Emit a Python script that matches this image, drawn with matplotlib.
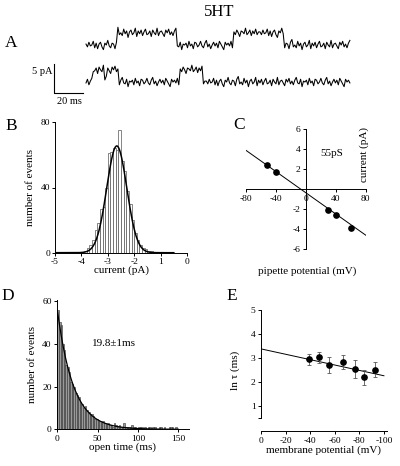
import matplotlib
matplotlib.use("Agg")
import matplotlib.pyplot as plt
import numpy as np

plt.rcParams['font.family'] = ['Liberation Serif', 'DejaVu Serif']
plt.rcParams['font.size'] = 6.8
plt.rcParams['axes.unicode_minus'] = False
plt.rcParams['axes.linewidth'] = 0.7
plt.rcParams['xtick.major.width'] = 0.7
plt.rcParams['ytick.major.width'] = 0.7
plt.rcParams['xtick.major.size'] = 2.5
plt.rcParams['ytick.major.size'] = 2.5

W, H = 400, 466
LAB = 8  # axis label size
LET = 12.5  # panel letters

# --- panel A: single channel traces (ms, pA) ---
trace_len = 182
open_amp = 2.1
top_openings = [(22, 63), (102, 137)]
bottom_openings = [(4.6, 12.4), (14.7, 23), (64.3, 81)]
bottom_partial = [(12.4, 14.7, 0.4)]
noise_gain = 1.6
trace_noise = [0.1, -0.2, 0.3, -0.1, 0.0, 0.4, -0.3, 0.2, -0.4, 0.1, 0.3, -0.2, -0.5, 0.2, 0.0,
               0.5, -0.1, -0.3, 0.2, 0.1, -0.4, 0.3, 0.6, -0.2, 0.0, -0.3, 0.4, -0.1, 0.2, -0.5,
               0.1, 0.3, -0.2, 0.0, 0.5, -0.4, 0.2, -0.1, 0.3, -0.3, 0.1, 0.4, -0.2, -0.1, 0.2,
               -0.4, 0.3, 0.0, -0.2, 0.5, -0.3, 0.1, 0.2, -0.1, -0.4, 0.3, 0.0, 0.4, -0.2, 0.1,
               -0.3, 0.2, 0.5, -0.1, -0.2, 0.3, -0.5, 0.1, 0.0, 0.2, -0.3, 0.4, -0.1, 0.1, -0.4,
               0.3, 0.2, -0.2, 0.0, 0.4, -0.1, -0.3, 0.2, 0.5, -0.2, 0.1, -0.4, 0.0, 0.3, -0.1,
               0.2, -0.3, 0.4, 0.1, -0.2, -0.5, 0.3, 0.0, 0.2, -0.1, 0.4, -0.3, 0.1, -0.2, 0.3,
               0.0, -0.4, 0.2, 0.1, -0.1, 0.5, -0.2, 0.0, 0.3, -0.3, 0.2, -0.1, 0.4, -0.2, 0.1]
trace_offset = -6.38

# --- panel B: amplitude histogram ---
amp_centers = [-3.85, -3.75, -3.65, -3.55, -3.45, -3.35, -3.25, -3.15, -3.05, -2.95, -2.85,
               -2.75, -2.65, -2.55, -2.45, -2.35, -2.25, -2.15, -2.05, -1.95, -1.85, -1.75,
               -1.65, -1.55, -1.45, -1.35]
amp_counts = [1, 3, 5, 8, 14, 18, 27, 28, 40, 61, 62, 64, 63, 75, 56, 50, 38, 30, 20, 12, 8,
              5, 3, 2, 1, 1]
gauss_amp, gauss_mu, gauss_sigma = 65.5, -2.66, 0.38

# --- panel C: I-V ---
iv_voltage = [-52, -40, 30, 40, 60]
iv_current = [2.45, 1.67, -2.1, -2.6, -3.85]
iv_slope, iv_icpt = -0.053, -0.35

# --- panel D: open time histogram (2 ms bins) ---
ot_counts = [56, 50, 49, 40, 37, 30, 29, 27, 22, 21, 20, 17, 16, 15, 13, 12, 10, 11, 9, 8,
             7, 7, 6, 5, 5, 4, 4, 3, 4, 3, 2, 3, 2, 2, 1, 3, 2, 1, 2, 1, 1, 3, 1, 1, 1, 1, 2,
             1, 1, 0, 1, 1, 1, 0, 1, 0, 1, 1, 0, 1, 1, 0, 0, 1, 1, 0, 1, 0, 0, 1, 1, 1, 0, 1, 0]
ot_binw = 2
exp_amp, exp_tau = 56, 19.8

# --- panel E: ln tau vs membrane potential ---
e_voltage = [-39, -47, -55, -67, -76.5, -84, -93]
e_lntau = [2.94, 3.03, 2.70, 2.84, 2.54, 2.19, 2.52]
e_err = [0.24, 0.22, 0.33, 0.29, 0.36, 0.33, 0.31]
e_slope, e_icpt = 0.0112, 3.38


def box(x0, y0, x1, y1):
    # pixel box (top-left origin) -> figure fraction rect
    return [x0 / W, 1 - y1 / H, (x1 - x0) / W, (y1 - y0) / H]


def ftext(x, y, s, **kw):
    fig.text(x / W, 1 - y / H, s, **kw)


fig = plt.figure(figsize=(W / 100, H / 100), dpi=100)

# A
axA = fig.add_axes(box(0, 20, 400, 105))
axA.axis('off')
axA.set_xlim(-59.31, 216.55)
axA.set_ylim(-10.34, 4.31)
t = np.arange(0, trace_len + 1, 1.0)
nz = np.array(trace_noise) * noise_gain
top = np.zeros_like(t)
for a, b in top_openings:
    top[(t >= a) & (t < b)] = open_amp
bot = np.zeros_like(t)
for a, b in bottom_openings:
    bot[(t >= a) & (t < b)] = open_amp
for a, b, f in bottom_partial:
    bot[(t >= a) & (t < b)] = open_amp * f
idx = np.arange(len(t))
axA.plot(t, top + nz[idx % len(nz)], color='k', lw=0.75)
axA.plot(t, bot + nz[(idx + 37) % len(nz)] + trace_offset, color='k', lw=0.75)
axA.plot([-21.9, -21.9, -1.9], [-3.27, -8.27, -8.27], color='k', lw=0.8)
ftext(52, 72, '5 pA', ha='right', va='center', fontsize=7.5)
ftext(69, 101, '20 ms', ha='center', va='center', fontsize=7.5)
ftext(219, 12, '5HT', ha='center', va='center', fontsize=12)
ftext(11, 43, 'A', ha='center', va='center', fontsize=LET)

# B
axB = fig.add_axes(box(55, 122.3, 187, 252.7))
axB.bar(amp_centers, amp_counts, width=0.1, facecolor='white', edgecolor='#555', lw=0.5)
xg = np.linspace(-5, -0.5, 300)
axB.plot(xg, gauss_amp * np.exp(-(xg - gauss_mu) ** 2 / (2 * gauss_sigma ** 2)), color='k', lw=1.1)
axB.set_xlim(-5, 0)
axB.set_ylim(0, 80)
axB.set_xticks([-5, -4, -3, -2, -1, 0], labels=['-5', '-4', '-3', '-2', '1', '0'])
axB.set_yticks([0, 40, 80])
axB.spines[['top', 'right']].set_visible(False)
axB.tick_params(pad=1)
axB.set_xlabel('current (pA)', labelpad=0, fontsize=LAB)
axB.set_ylabel('number of events', labelpad=4, fontsize=LAB)
ftext(11, 126, 'B', ha='center', va='center', fontsize=LET)

# C
axC = fig.add_axes(box(245.7, 129, 365.7, 249.3))
vv = np.array([-80, 80])
axC.plot(vv, iv_slope * vv + iv_icpt, color='k', lw=0.7)
axC.plot(iv_voltage, iv_current, 'o', color='k', ms=3.8)
axC.set_xlim(-80, 80)
axC.set_ylim(-6, 6)
axC.spines[['top', 'right']].set_visible(False)
axC.spines['left'].set_position('zero')
axC.spines['bottom'].set_position('zero')
axC.set_xticks([-80, -40, 0, 40, 80])
axC.set_yticks([-6, -4, -2, 2, 4, 6])
axC.tick_params(pad=1.5)
ftext(332, 154, '55pS', ha='center', va='center', fontsize=LAB)
ftext(364, 154, 'current (pA)', ha='center', va='center', rotation=90, fontsize=LAB)
ftext(307, 271, 'pipette potential (mV)', ha='center', va='center', fontsize=LAB)
ftext(239, 125, 'C', ha='center', va='center', fontsize=LET)

# D
axD = fig.add_axes(box(57.3, 300, 188.7, 429.3))
ot_centers = np.arange(len(ot_counts)) * ot_binw + ot_binw / 2
axD.bar(ot_centers, ot_counts, width=ot_binw, facecolor='#9a9a9a', edgecolor='#333', lw=0.4)
xe = np.linspace(0, 150, 300)
axD.plot(xe, exp_amp * np.exp(-xe / exp_tau), color='k', lw=0.9)
axD.set_xlim(0, 163)
axD.set_ylim(0, 60.5)
axD.set_xticks([0, 50, 100, 150])
axD.set_yticks([0, 20, 40, 60])
axD.spines[['top', 'right']].set_visible(False)
axD.tick_params(pad=1.5)
axD.set_xlabel('open time (ms)', labelpad=0, fontsize=LAB)
axD.set_ylabel('number of events', labelpad=4, fontsize=LAB)
ftext(92, 343, '19.8±1ms', ha='left', va='center', fontsize=LAB)
ftext(8, 296, 'D', ha='center', va='center', fontsize=LET)

# E
axE = fig.add_axes(box(261, 310, 387, 430))
ve = np.array([0, -100])
axE.plot(ve, e_slope * ve + e_icpt, color='k', lw=0.7)
axE.errorbar(e_voltage, e_lntau, yerr=e_err, fmt='o', color='k', ms=3.8,
             elinewidth=0.6, ecolor='#555', capsize=1.5, capthick=0.6)
axE.set_xlim(0, -102.5)
axE.set_ylim(0, 5)
axE.spines[['top', 'right']].set_visible(False)
axE.spines['left'].set_bounds(0.5, 5)
axE.spines['bottom'].set_position(('outward', 1))
axE.set_xticks([0, -20, -40, -60, -80, -100])
axE.set_yticks([0.5, 1, 2, 3, 4, 5], labels=['', '1', '2', '3', '4', '5'])
axE.tick_params(pad=1.5)
axE.set_xlabel('membrane potential (mV)', labelpad=0, fontsize=LAB)
axE.set_ylabel('ln τ (ms)', labelpad=8, fontsize=LAB)
ftext(232, 296, 'E', ha='center', va='center', fontsize=LET)

fig.savefig('out.png', dpi=100)
